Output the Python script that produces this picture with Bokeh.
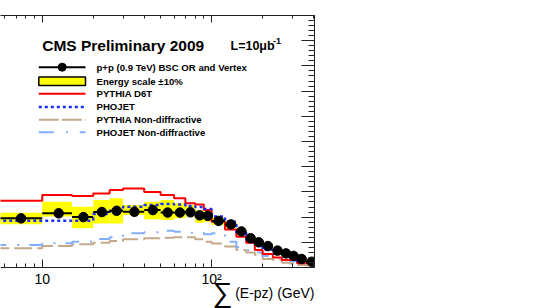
import numpy as np
from bokeh.plotting import figure
from bokeh.models import (Label, LogAxis, FixedTicker, CustomJSTickFormatter,
                          SingleIntervalTicker)
from bokeh.embed import file_html
from bokeh.resources import INLINE

# ---------------- data ----------------
edges = [5, 10, 15, 20, 25, 30, 40, 50, 60, 70, 80, 90, 100, 120, 140, 160,
         180, 200, 230, 260, 290, 320, 360, 420]
data = [1.95, 2.15, 2.0, 2.2, 2.25, 2.21, 2.28, 2.18, 2.18, 2.19, 2.07, 2.05,
        1.85, 1.71, 1.43, 1.16, 1.0, 0.85, 0.67, 0.56, 0.46, 0.34, 0.23]
band_lo = [1.72, 2.02, 1.56, 1.75, 1.75, 2.08, 1.91, 1.88, 1.95, 2.02, 1.78,
           1.82, 1.69, 1.56, 1.29, 1.05, 0.9, 0.76, 0.6, 0.5, 0.4, 0.29, 0.18]
band_hi = [2.17, 2.61, 2.41, 2.68, 2.75, 2.48, 2.61, 2.68, 2.55, 2.48, 2.28,
           2.21, 1.99, 1.86, 1.57, 1.28, 1.1, 0.95, 0.75, 0.63, 0.52, 0.4, 0.28]
pythia_d6t = [2.65, 2.88, 2.84, 2.94, 3.08, 3.13, 3.0, 2.88, 2.75, 2.55, 2.5,
              2.28, 1.82, 1.51, 1.22, 0.98, 0.69, 0.54, 0.4, 0.3, 0.3, 0.17, 0.17]
phojet = [1.86, 1.86, 1.86, 2.12, 2.25, 2.41, 2.48, 2.52, 2.5, 2.44, 2.4, 2.32,
          2.02, 1.82, 1.38, 1.1, 0.9, 0.7, 0.55, 0.45, 0.4, 0.26, 0.2]
pythia_nd = [0.76, 0.85, 0.92, 0.98, 1.05, 1.12, 1.16, 1.18, 1.2, 1.2, 1.12,
             1.02, 0.95, 0.83, 0.69, 0.6, 0.5, 0.34, 0.3, 0.19, 0.16, 0.1, 0.08]
phojet_nd = [0.89, 0.96, 1.02, 1.13, 1.2, 1.36, 1.4, 1.46, 1.42, 1.38, 1.38,
             1.32, 1.36, 1.02, 0.8, 0.68, 0.6, 0.46, 0.38, 0.3, 0.25, 0.17, 0.14]
major_ticks = [10, 100]
minor_ticks = [6, 7, 8, 9, 20, 30, 40, 50, 60, 70, 80, 90, 200, 300, 400]
legend_labels = ["p+p (0.9 TeV) BSC OR and Vertex", "Energy scale \u00b110%",
                 "PYTHIA D6T", "PHOJET", "PYTHIA Non-diffractive",
                 "PHOJET Non-diffractive"]

# ---------------- layout helpers ----------------
X0, X1 = 5.67, 405.0
FL, FW = 0.0, 314.0          # frame left / width in window pixels
FT, FH = 15.0, 293.0         # frame top / height in window pixels
AXIS_PY = 267.0              # window row of the x axis (value 0)
YTOP = 10.0
Y0 = -(FT + FH - AXIS_PY) / (AXIS_PY - FT) * YTOP
Y1 = YTOP


def px2x(px):
    return 10 ** (np.log10(X0) + (px - FL) / FW * (np.log10(X1) - np.log10(X0)))


def py2y(py):
    return Y0 + (FT + FH - py) / FH * (Y1 - Y0)


FONT = "Liberation Sans"
AX = "#222222"

p = figure(x_axis_type="log", x_axis_location="above", y_axis_location="right",
           x_range=(X0, X1), y_range=(Y0, Y1),
           frame_width=int(FW), frame_height=int(FH),
           min_border_left=0, min_border_top=int(FT), min_border_right=6,
           min_border_bottom=0,
           toolbar_location=None, output_backend="svg",
           outline_line_color=None, background_fill_color="white",
           border_fill_color="white")
p.grid.visible = False

fmt = CustomJSTickFormatter(code="""
    if (Math.abs(tick - 10) < 1e-6) return '10';
    if (Math.abs(tick - 100) < 1e-6) return '10\u00b2';
    return '';
""")
blank = CustomJSTickFormatter(code="return ' ';")

# top axis (ticks only)
ta = p.xaxis[0]
ta.ticker = FixedTicker(ticks=major_ticks, minor_ticks=minor_ticks)
ta.formatter = blank
ta.major_label_text_font_size = "2px"
ta.major_label_text_color = None
ta.major_label_standoff = 0
ta.major_tick_in = 7
ta.major_tick_out = 0
ta.minor_tick_in = 3
ta.minor_tick_out = 0
ta.axis_line_color = AX
ta.major_tick_line_color = AX
ta.minor_tick_line_color = AX

# bottom axis, fixed at value 0 inside the frame
xa = LogAxis(ticker=FixedTicker(ticks=major_ticks, minor_ticks=minor_ticks),
             formatter=fmt, fixed_location=0,
             major_tick_in=8, major_tick_out=0, minor_tick_in=4, minor_tick_out=0,
             major_label_standoff=3, major_label_text_font=FONT,
             major_label_text_font_size="14px", major_label_text_color="black",
             axis_line_color=AX, major_tick_line_color=AX, minor_tick_line_color=AX)
p.add_layout(xa, "below")

ya = p.yaxis[0]
ya.ticker = SingleIntervalTicker(interval=1, num_minor_ticks=5)
ya.bounds = (0, YTOP)
ya.formatter = blank
ya.major_label_text_font_size = "2px"
ya.major_label_text_color = None
ya.major_label_standoff = 0
ya.major_tick_in = 13
ya.major_tick_out = 0
ya.minor_tick_in = 6
ya.minor_tick_out = 0
ya.axis_line_color = AX
ya.major_tick_line_color = AX
ya.minor_tick_line_color = AX

# ---------------- histogram drawing ----------------
e = np.array(edges, dtype=float)
centers = (e[:-1] + e[1:]) / 2
sx = np.repeat(e, 2)[1:-1]


def steps(vals):
    return np.repeat(np.array(vals, dtype=float), 2)


YELLOW = "#ffff00"
RED = "#ff0000"
BLUE = "#1a2cff"
TAN = "#c4aa8a"
LBLUE = "#82aefc"

p.quad(left=e[:-1], right=e[1:], bottom=band_lo, top=band_hi,
       fill_color=YELLOW, line_color=None)
p.line(sx, steps(pythia_nd), line_color=TAN, line_width=2, line_dash="18 5")
p.line(sx, steps(phojet_nd), line_color=LBLUE, line_width=2, line_dash="15 11 2 10")
p.line(sx, steps(pythia_d6t), line_color=RED, line_width=2)
p.line(sx, steps(phojet), line_color=BLUE, line_width=2.5, line_dash="3 3")
p.segment(x0=e[:-1], x1=e[1:], y0=data, y1=data, line_color="black", line_width=2)
p.scatter(centers, data, size=9.5, fill_color="black", line_color="black")

# ---------------- legend ----------------
lx0, lx1 = px2x(38.3), px2x(85.0)
rows = [66.7, 80.7, 93.3, 106.4, 119.3, 131.8]

p.segment(x0=[lx0], x1=[lx1], y0=[py2y(rows[0])], y1=[py2y(rows[0])],
          line_color="black", line_width=2)
p.scatter([px2x(61.7)], [py2y(rows[0])], size=8, fill_color="black", line_color="black")
p.quad(left=[lx0], right=[lx1], bottom=[py2y(85.0)], top=[py2y(76.5)],
       fill_color=YELLOW, line_color="black", line_width=1.5)
p.line([lx0, lx1], [py2y(rows[2])] * 2, line_color=RED, line_width=2)
p.line([lx0, lx1], [py2y(rows[3])] * 2, line_color=BLUE, line_width=2.5, line_dash="3 3")
p.line([lx0, lx1], [py2y(rows[4])] * 2, line_color=TAN, line_width=2, line_dash="20 3")
p.line([lx0, lx1], [py2y(rows[5])] * 2, line_color=LBLUE, line_width=2, line_dash="15 12 2 12")

for txt, r in zip(legend_labels, rows):
    p.add_layout(Label(x=px2x(96), y=py2y(r), text=txt, text_font=FONT,
                       text_font_size="9.6px", text_font_style="bold",
                       text_baseline="middle", text_color="black"))

p.add_layout(Label(x=px2x(41.7), y=py2y(44.8), text="CMS Preliminary 2009",
                   text_font=FONT, text_font_size="15.5px", text_font_style="bold",
                   text_baseline="middle", text_color="black"))
p.add_layout(Label(x=px2x(230), y=py2y(45.0), text="L=10\u03bcb",
                   text_font=FONT, text_font_size="12.5px", text_font_style="bold",
                   text_baseline="middle", text_color="black"))
p.add_layout(Label(x=px2x(272.5), y=py2y(40.5), text="-1",
                   text_font=FONT, text_font_size="9px", text_font_style="bold",
                   text_baseline="middle", text_color="black"))

# axis title (inside the extended frame, below the axis)
p.add_layout(Label(x=px2x(232), y=py2y(292), text="\u2211",
                   text_font=FONT, text_font_size="28px",
                   text_align="right", text_baseline="middle", text_color="black"))
p.add_layout(Label(x=px2x(314), y=py2y(292.5), text="(E-pz) (GeV)",
                   text_font=FONT, text_font_size="14px",
                   text_align="right", text_baseline="middle", text_color="black"))

open("out.html", "w").write(file_html(p, INLINE))
